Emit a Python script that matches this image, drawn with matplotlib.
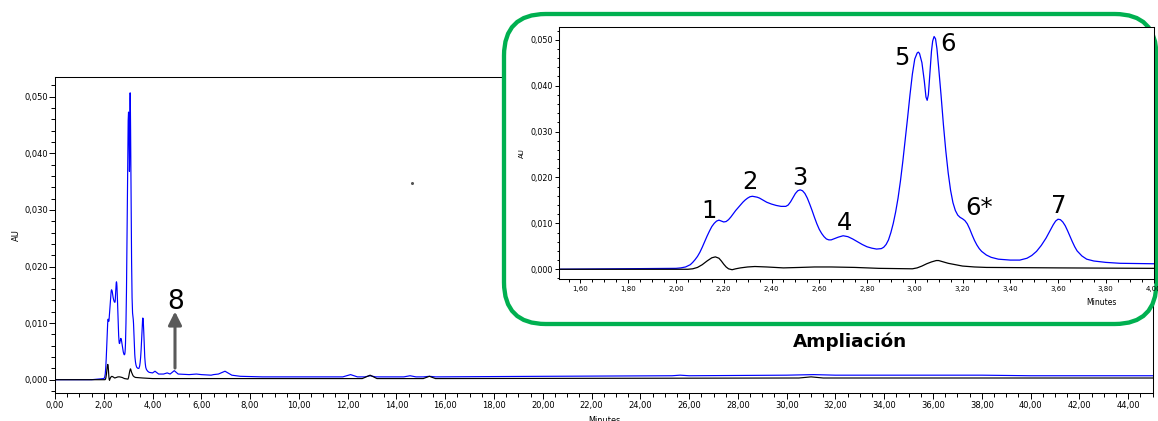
import matplotlib
matplotlib.use("Agg")
import matplotlib.pyplot as plt
from matplotlib.patches import FancyBboxPatch
from matplotlib.lines import Line2D
from matplotlib.ticker import MultipleLocator, FuncFormatter

# Sample chromatogram: retention time (min) and absorbance (AU)
sample_time = [
    0.00, 0.01, 1.50, 2.00, 2.02, 2.04, 2.06, 2.07, 2.08, 2.09, 2.10, 2.11, 2.12,
    2.13, 2.14, 2.15, 2.16, 2.17, 2.18, 2.19, 2.20, 2.21, 2.22, 2.23, 2.24, 2.25,
    2.26, 2.27, 2.28, 2.29, 2.30, 2.31, 2.32, 2.33, 2.34, 2.35, 2.36, 2.38, 2.40,
    2.42, 2.44, 2.46, 2.47, 2.48, 2.49, 2.50, 2.51, 2.52, 2.53, 2.54, 2.55, 2.56,
    2.57, 2.58, 2.59, 2.60, 2.61, 2.62, 2.63, 2.64, 2.65, 2.66, 2.68, 2.70, 2.72,
    2.74, 2.76, 2.78, 2.80, 2.82, 2.84, 2.86, 2.87, 2.88, 2.89, 2.90, 2.91, 2.92,
    2.93, 2.94, 2.95, 2.96, 2.97, 2.98, 2.99, 3.00, 3.01, 3.015, 3.02, 3.03, 3.04,
    3.047, 3.052, 3.057, 3.065, 3.07, 3.075, 3.081, 3.087, 3.093, 3.10, 3.11, 3.12,
    3.13, 3.14, 3.15, 3.16, 3.17, 3.18, 3.19, 3.20, 3.21, 3.22, 3.23, 3.24, 3.25,
    3.26, 3.27, 3.28, 3.30, 3.32, 3.35, 3.40, 3.44, 3.47, 3.49, 3.51, 3.53, 3.55,
    3.57, 3.58, 3.59, 3.60, 3.61, 3.62, 3.63, 3.64, 3.65, 3.66, 3.67, 3.68, 3.70,
    3.72, 3.75, 3.80, 3.86, 4.00, 4.10, 4.25, 4.45, 4.60, 4.72, 4.89, 5.05, 5.50,
    5.80, 6.00, 6.40, 6.50, 6.70, 6.97, 7.25, 7.60, 8.50, 10.0, 11.8, 12.12, 12.4,
    12.7, 12.92, 13.15, 14.3, 14.56, 14.8, 15.1, 15.35, 15.6, 20.0, 25.3, 25.63,
    26.0, 30.0, 31.1, 32.0, 38.0, 40.0, 45.0,
]
sample_au = [
    0.0100, 0.0000, 0.0000, 0.0002, 0.0003, 0.0005, 0.0010, 0.0015, 0.0021, 0.0028, 0.0037, 0.0048, 0.0060,
    0.0072, 0.0083, 0.0093, 0.0100, 0.0105, 0.0107, 0.0105, 0.0103, 0.0104, 0.0108, 0.0114, 0.0121, 0.0128,
    0.0134, 0.0140, 0.0146, 0.0151, 0.0155, 0.0158, 0.0159, 0.0158, 0.0157, 0.0155, 0.0152, 0.0146, 0.0142,
    0.0139, 0.0137, 0.0137, 0.0140, 0.0147, 0.0156, 0.0165, 0.0171, 0.0173, 0.0171, 0.0165, 0.0155, 0.0142,
    0.0128, 0.0113, 0.0099, 0.0087, 0.0078, 0.0071, 0.0066, 0.0064, 0.0064, 0.0066, 0.0070, 0.0073, 0.0071,
    0.0066, 0.0060, 0.0054, 0.0049, 0.0046, 0.0044, 0.0045, 0.0048, 0.0054, 0.0064, 0.0080, 0.0100, 0.0125,
    0.0155, 0.0192, 0.0235, 0.0282, 0.0330, 0.0380, 0.0425, 0.0458, 0.0471, 0.0473, 0.0470, 0.0450, 0.0410,
    0.0375, 0.0368, 0.0380, 0.0440, 0.0475, 0.0497, 0.0507, 0.0502, 0.0480, 0.0440, 0.0380, 0.0315,
    0.0258, 0.0210, 0.0172, 0.0145, 0.0128, 0.0118, 0.0113, 0.0110, 0.0106, 0.0099, 0.0088, 0.0075, 0.0063,
    0.0053, 0.0045, 0.0039, 0.0031, 0.0026, 0.0022, 0.0020, 0.0020, 0.0024, 0.0030, 0.0039, 0.0052, 0.0068,
    0.0087, 0.0097, 0.0105, 0.0109, 0.0108, 0.0103, 0.0095, 0.0084, 0.0072, 0.0060, 0.0049, 0.0040, 0.0029,
    0.0022, 0.0018, 0.0015, 0.0013, 0.0012, 0.0015, 0.0010, 0.0010, 0.0012, 0.0010, 0.0016, 0.0010, 0.0009,
    0.0010, 0.0009, 0.0008, 0.0009, 0.0010, 0.0015, 0.0008, 0.0006, 0.0005, 0.0005, 0.0005, 0.0009, 0.0005,
    0.0005, 0.0007, 0.0005, 0.0005, 0.0007, 0.0005, 0.0005, 0.0006, 0.0005, 0.0006, 0.0007, 0.0008,
    0.0007, 0.0008, 0.0009, 0.0008, 0.0008, 0.0007, 0.0007,
]

# Blank run
blank_time = [
    0.00, 2.05, 2.07, 2.09, 2.11, 2.13, 2.15, 2.165, 2.18, 2.19, 2.20, 2.21, 2.22,
    2.235, 2.25, 2.27, 2.30, 2.33, 2.38, 2.45, 2.52, 2.58, 2.65, 2.75, 2.85, 2.99,
    3.01, 3.03, 3.05, 3.07, 3.09, 3.10, 3.12, 3.14, 3.17, 3.20, 3.25, 3.30, 3.60,
    4.00, 6.00, 12.6, 12.92, 13.2, 15.1, 15.35, 15.6, 30.5, 31.0, 31.5, 45.0,
]
blank_au = [
    0.0000, 0.0000, 0.0001, 0.0004, 0.0010, 0.0018, 0.0025, 0.0027, 0.0024, 0.0018, 0.0011, 0.0005, 0.0001,
    -0.0001, 0.0001, 0.0003, 0.0005, 0.0006, 0.0005, 0.0003, 0.0004, 0.0005, 0.0005, 0.0004, 0.0002, 0.0001,
    0.0003, 0.0007, 0.0012, 0.0016, 0.0019, 0.0019, 0.0016, 0.0013, 0.0010, 0.0007, 0.0005, 0.0004, 0.0003,
    0.0002, 0.0002, 0.0002, 0.0008, 0.0002, 0.0002, 0.0006, 0.0002, 0.0003, 0.0005, 0.0003, 0.0003,
]

# Peak labels in the zoomed panel
peak_labels = ["1", "2", "3", "4", "5", "6", "6*", "7"]
peak_label_pos = [
    (2.138, 0.0111), (2.310, 0.01744), (2.519, 0.01838), (2.704, 0.00857),
    (2.945, 0.04455), (3.140, 0.04745), (3.269, 0.01184), (3.604, 0.01234),
]

# Peak 8 marker in the full-run panel
peak8_time = 4.92
peak8_arrow = (0.00206, 0.01205)

W, H = 1158, 421
BLUE = "#0000FF"
GREEN = "#00B050"


def px_rect(x0, y0, x1, y1):
    return [x0 / W, 1 - y1 / H, (x1 - x0) / W, (y1 - y0) / H]


def comma_fmt(decimals):
    return FuncFormatter(lambda v, _: f"{v:.{decimals}f}".replace(".", ","))


plt.rcParams["font.family"] = ["DejaVu Sans"]

fig = plt.figure(figsize=(W / 100, H / 100), dpi=100)
fig.patch.set_facecolor("white")

# ---- full chromatogram ----
ax = fig.add_axes(px_rect(55, 77, 1153, 393))
ax.plot(sample_time, sample_au, color=BLUE, lw=0.85, zorder=2)
ax.plot(blank_time, blank_au, color="black", lw=0.85, zorder=3)
ax.set_xlim(0, 45.02)
ax.set_ylim(-0.00235, 0.0535)
ax.xaxis.set_major_locator(MultipleLocator(2))
ax.xaxis.set_minor_locator(MultipleLocator(0.5))
ax.yaxis.set_major_locator(MultipleLocator(0.01))
ax.yaxis.set_minor_locator(MultipleLocator(0.002))
ax.xaxis.set_major_formatter(comma_fmt(2))
ax.yaxis.set_major_formatter(comma_fmt(3))
ax.tick_params(axis="x", which="major", length=4, width=0.7, labelsize=6.0, pad=2)
ax.tick_params(axis="x", which="minor", length=2.8, width=0.7)
ax.tick_params(axis="y", which="major", length=4.3, width=0.7, labelsize=6.0, pad=0.3)
ax.tick_params(axis="y", which="minor", length=2.6, width=0.7)
for s in ax.spines.values():
    s.set_linewidth(0.75)
ax.set_xlabel("Minutes", fontsize=5.9)
ax.xaxis.set_label_coords(0.5, -0.072)
ax.set_ylabel("AU", fontsize=6.0)
ax.yaxis.set_label_coords(-0.031, 0.5)

ax.annotate("", xy=(peak8_time, peak8_arrow[1]), xytext=(peak8_time, peak8_arrow[0]),
            arrowprops=dict(arrowstyle="-|>", color="#5a5a5a", lw=2.2,
                            mutation_scale=20, shrinkA=0, shrinkB=0), zorder=4)
ax.text(4.95, 0.01253, "8", fontsize=19, ha="center", va="baseline", zorder=4)

# ---- rounded frame around the zoomed panel ----
frame = FancyBboxPatch((504 / W, 1 - 324 / H), (1156.5 - 504) / W, (324 - 14) / H,
                       boxstyle="round,pad=0,rounding_size=0.036",
                       transform=fig.transFigure, facecolor="white",
                       edgecolor=GREEN, linewidth=3.1, zorder=1,
                       mutation_aspect=W / H)
fig.patches.append(frame)

# ---- zoomed panel ----
axi = fig.add_axes(px_rect(559, 27, 1154, 279))
axi.set_zorder(2)
axi.plot(sample_time, sample_au, color=BLUE, lw=0.9, zorder=2)
axi.plot(blank_time, blank_au, color="black", lw=0.9, zorder=3)
axi.set_xlim(1.51, 4.002)
axi.set_ylim(-0.00212, 0.05277)
axi.xaxis.set_major_locator(MultipleLocator(0.2))
axi.xaxis.set_minor_locator(MultipleLocator(0.05))
axi.yaxis.set_major_locator(MultipleLocator(0.01))
axi.yaxis.set_minor_locator(MultipleLocator(0.002))
axi.xaxis.set_major_formatter(comma_fmt(2))
axi.yaxis.set_major_formatter(comma_fmt(3))
axi.tick_params(axis="x", which="major", length=3, width=0.7, labelsize=5.0, pad=2)
axi.tick_params(axis="x", which="minor", length=2.5, width=0.7)
axi.tick_params(axis="y", which="major", length=3, width=0.7, labelsize=5.8, pad=1.2)
axi.tick_params(axis="y", which="minor", length=1.8, width=0.7)
for s in axi.spines.values():
    s.set_linewidth(0.75)
axi.set_xlabel("Minutes", fontsize=5.5)
axi.xaxis.set_label_coords(0.911, -0.075)
axi.set_ylabel("AU", fontsize=5.0)
axi.yaxis.set_label_coords(-0.057, 0.5)

for label, (tx, ty) in zip(peak_labels, peak_label_pos):
    axi.text(tx, ty, label, fontsize=17.5, ha="center", va="baseline", zorder=4)

fig.text(850 / W, 1 - 346.7 / H, "Ampliación", fontsize=13.2, fontweight="bold",
         ha="center", va="baseline")

# small speck in the plot area
fig.add_artist(Line2D([412 / W], [1 - 183 / H], marker="o", markersize=1.2,
                      color="#555555", linestyle="none", transform=fig.transFigure))

fig.savefig("out.png", dpi=100)
